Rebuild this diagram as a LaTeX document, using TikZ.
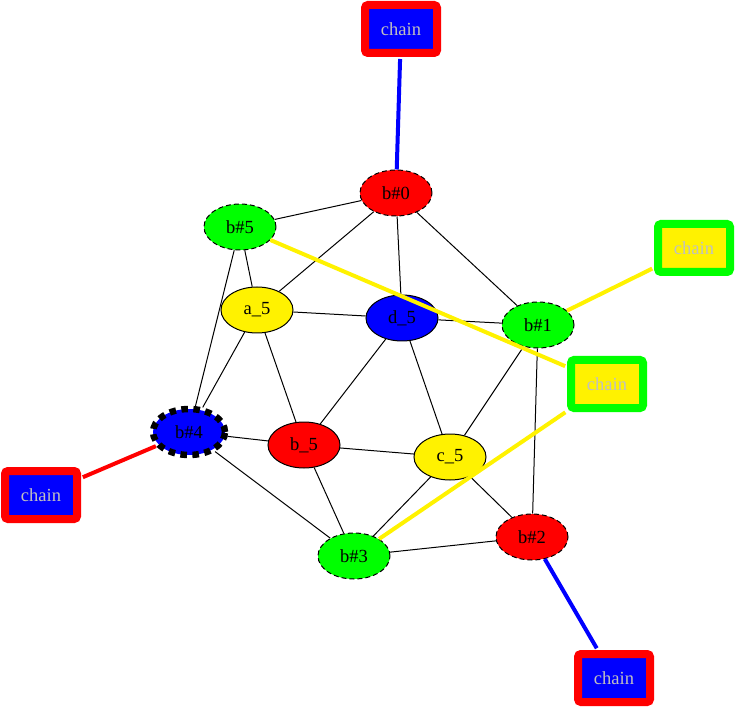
\documentclass[tikz,border=0pt]{standalone}
\usepackage{fontspec}
\setmainfont{Liberation Serif}
\usepackage{xcolor}
\usetikzlibrary{shapes.geometric}

\definecolor{chaintext}{RGB}{192,192,192}

\begin{document}
\begin{tikzpicture}[
  x=1pt, y=-1pt,
  every node/.style={font=\fontsize{18.5pt}{22pt}\selectfont},
  atom/.style={ellipse, draw, line width=1pt, inner sep=0pt,
               minimum width=72pt, minimum height=46pt},
  bead/.style={atom, dashed, dash pattern=on 5pt off 3pt},
  bigbead/.style={atom, line width=6.5pt, dash pattern=on 6.5pt off 5.5pt},
  chain/.style={draw, line width=8pt, rounded corners=3pt, text=chaintext,
                minimum width=72pt, minimum height=48pt, inner sep=0pt},
  link/.style={line width=1pt},
  bond/.style={line width=4pt, shorten >=2pt}
]
  \useasboundingbox (0,0) rectangle (736,708);

  % ring of beads and core atoms
  \node[bead, fill=red]      (b0) at (396,193) {b\#0};
  \node[bead, fill=green]    (b5) at (240,227) {b\#5};
  \node[atom, fill=yellow]   (a5) at (257,310) {a\_5};
  \node[atom, fill=blue]     (d5) at (402,318) {d\_5};
  \node[bead, fill=green]    (b1) at (538,325) {b\#1};
  \node[bigbead, fill=blue]  (b4) at (189,432) {b\#4};
  \node[atom, fill=red]      (bb) at (304,445) {b\_5};
  \node[atom, fill=yellow]   (c5) at (450,457) {c\_5};
  \node[bead, fill=red]      (b2) at (532,537) {b\#2};
  \node[bead, fill=green]    (b3) at (354,556) {b\#3};

  % chain ends
  \node[chain, draw=red, fill=blue]     (ch0) at (401,29)  {chain};
  \node[chain, draw=green, fill=yellow] (ch1) at (694,248) {chain};
  \node[chain, draw=green, fill=yellow] (ch2) at (607,384) {chain};
  \node[chain, draw=red, fill=blue]     (ch4) at (41,495)  {chain};
  \node[chain, draw=red, fill=blue]     (ch3) at (614,678) {chain};

  \draw[link] (b0) -- (b5);
  \draw[link] (b0) -- (a5);
  \draw[link] (b0) -- (d5);
  \draw[link] (b0) -- (b1);
  \draw[link] (b5) -- (a5);
  \draw[link] (b5) -- (b4);
  \draw[link] (a5) -- (d5);
  \draw[link] (a5) -- (b4);
  \draw[link] (a5) -- (bb);
  \draw[link] (d5) -- (b1);
  \draw[link] (d5) -- (bb);
  \draw[link] (d5) -- (c5);
  \draw[link] (b1) -- (c5);
  \draw[link] (b1) -- (b2);
  \draw[link] (b4) -- (bb);
  \draw[link] (b4) -- (b3);
  \draw[link] (bb) -- (c5);
  \draw[link] (bb) -- (b3);
  \draw[link] (c5) -- (b3);
  \draw[link] (c5) -- (b2);
  \draw[link] (b2) -- (b3);

  \draw[bond, blue]   (b0) -- (ch0);
  \draw[bond, yellow] (b5) -- (ch2);
  \draw[bond, yellow] (b1) -- (ch1);
  \draw[bond, yellow] (b3) -- (ch2);
  \draw[bond, red]    (b4) -- (ch4);
  \draw[bond, blue]   (b2) -- (ch3);
\end{tikzpicture}
\end{document}
